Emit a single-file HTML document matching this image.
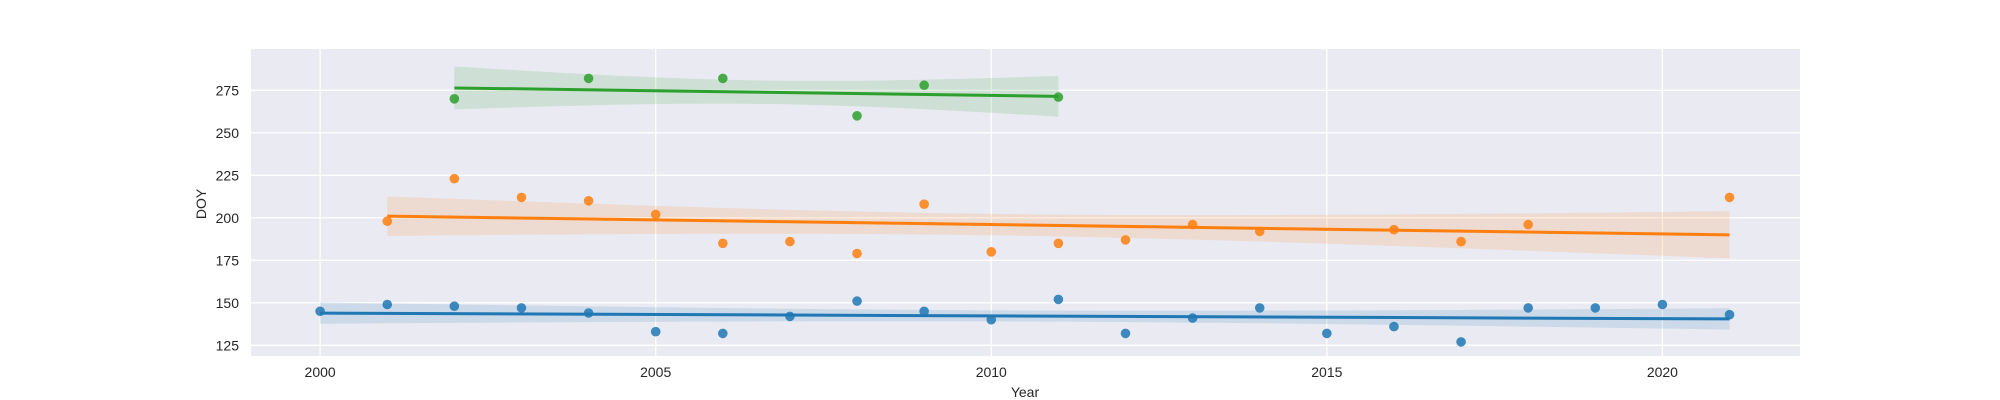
<!DOCTYPE html>
<html><head><meta charset="utf-8"><style>
html,body{margin:0;padding:0;background:#fff;}
svg{display:block;font-family:"Liberation Sans","DejaVu Sans",sans-serif;}
</style></head><body>
<svg id="chart" width="2000" height="400" viewBox="0 0 2000 400" xmlns="http://www.w3.org/2000/svg">
<rect x="251" y="49" width="1549" height="307" fill="#eaeaf2"/>
<g id="grid"></g>
<g id="series"></g>
<g id="ticks"></g>
<text transform="translate(206,204) rotate(-90)" text-anchor="middle" font-size="14" fill="#262626">DOY</text>
<text x="1025" y="397" text-anchor="middle" font-size="14" fill="#262626">Year</text>
</svg>
<script>
const xTicks = [2000, 2005, 2010, 2015, 2020];
const yTicks = [125, 150, 175, 200, 225, 250, 275];
const blueYears = [2000,2001,2002,2003,2004,2005,2006,2007,2008,2009,2010,2011,2012,2013,2014,2015,2016,2017,2018,2019,2020,2021];
const blueDOY = [145,149,148,147,144,133,132,142,151,145,140,152,132,141,147,132,136,127,147,147,149,143];
const orangeYears = [2001,2002,2003,2004,2005,2006,2007,2008,2009,2010,2011,2012,2013,2014,2016,2017,2018,2021];
const orangeDOY = [198,223,212,210,202,185,186,179,208,180,185,187,196,192,193,186,196,212];
const greenYears = [2002,2004,2006,2008,2009,2011];
const greenDOY = [270,282,282,260,278,271];

const X0=251,X1=1800,Y0=49,Y1=356;
const xMin=1998.97,xMax=2022.05,yMin=118.7,yMax=299.3;
const sx=v=>X0+(v-xMin)/(xMax-xMin)*(X1-X0);
const sy=v=>Y1-(v-yMin)/(yMax-yMin)*(Y1-Y0);
const NS="http://www.w3.org/2000/svg";
function mk(tag,attrs,parent){const e=document.createElementNS(NS,tag);for(const k in attrs)e.setAttribute(k,attrs[k]);parent.appendChild(e);return e;}
const grid=document.getElementById('grid'),ticks=document.getElementById('ticks'),ser=document.getElementById('series');
xTicks.forEach(t=>{
  const l=mk('line',{x1:sx(t),x2:sx(t),y1:Y0,y2:Y1,stroke:'#fff','stroke-width':1.3},grid);
  
  
  const tx=mk('text',{x:sx(t),y:377,'text-anchor':'middle','font-size':14,fill:'#262626'},ticks);
  tx.textContent=t;
  
  
});
yTicks.forEach(t=>{
  const l=mk('line',{x1:X0,x2:X1,y1:sy(t),y2:sy(t),stroke:'#fff','stroke-width':1.3},grid);
  
  
  const tx=mk('text',{x:239,y:sy(t)+5,'text-anchor':'end','font-size':14,fill:'#262626'},ticks);
  tx.textContent=t;
  
  
});
function tval(df){const t={1:12.71,2:4.30,3:3.18,4:2.78,5:2.57,6:2.45,7:2.36,8:2.31,9:2.26,10:2.23,12:2.18,14:2.14,16:2.12,18:2.10,20:2.09};let k=df;while(!t[k]&&k>1)k--;return t[k]||2;}
function drawSeries(xs,ys,color,name,bandScale){
  const n=xs.length,mx=xs.reduce((a,b)=>a+b)/n,my=ys.reduce((a,b)=>a+b)/n;
  let sxx=0,sxy=0;xs.forEach((x,i)=>{sxx+=(x-mx)**2;sxy+=(x-mx)*(ys[i]-my);});
  const b=sxy/sxx,a=my-b*mx;
  let sse=0;xs.forEach((x,i)=>{sse+=(ys[i]-a-b*x)**2;});
  const s=Math.sqrt(sse/(n-2)),t=tval(n-2)*bandScale;
  const lo=Math.min(...xs),hi=Math.max(...xs);
  const up=[],dn=[];
  for(let k=0;k<=40;k++){const x=lo+(hi-lo)*k/40,yh=a+b*x,se=s*Math.sqrt(1/n+(x-mx)**2/sxx);up.push(sx(x)+','+sy(yh+t*se));dn.unshift(sx(x)+','+sy(yh-t*se));}
  const band=mk('polygon',{points:up.concat(dn).join(' '),fill:color,'fill-opacity':0.15},ser);
  
  
  xs.forEach((x,i)=>{const c=mk('circle',{cx:sx(x),cy:sy(ys[i]),r:4.8,fill:color,'fill-opacity':0.85},ser);
    
    });
  const ln=mk('line',{x1:sx(lo),y1:sy(a+b*lo),x2:sx(hi),y2:sy(a+b*hi),stroke:color,'stroke-width':3},ser);
  
  
}
drawSeries(blueYears,blueDOY,'#1f77b4','blue',1);
drawSeries(orangeYears,orangeDOY,'#ff7f0e','orange',1);
drawSeries(greenYears,greenDOY,'#2ca02c','green',0.65);
</script>
</body></html>
